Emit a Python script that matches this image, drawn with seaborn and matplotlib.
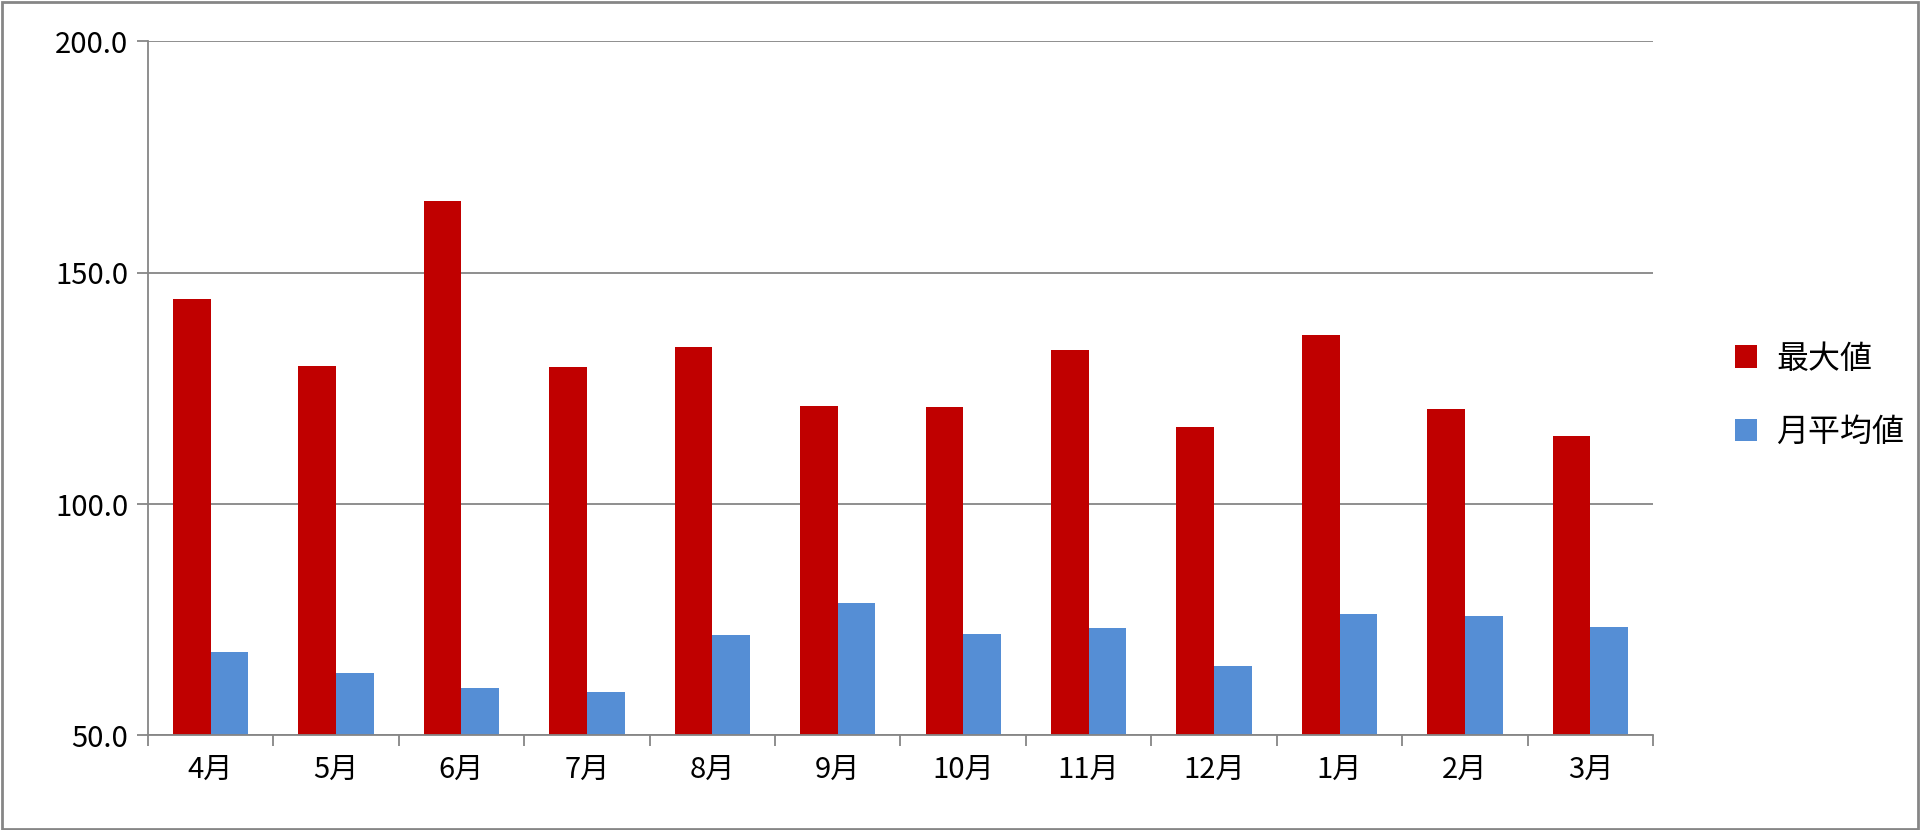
import pandas as pd
import matplotlib.pyplot as plt
import seaborn as sns

plt.rcParams['font.family'] = 'Noto Sans CJK JP'

# Data
months = ["4月", "5月", "6月", "7月", "8月", "9月", "10月", "11月", "12月", "1月", "2月", "3月"]
maxVals = [144.4, 129.9, 165.6, 129.6, 133.9, 121.2, 120.9, 133.3, 116.7, 136.5, 120.6, 114.8]
avgVals = [68.0, 63.5, 60.3, 59.3, 71.7, 78.6, 72.0, 73.3, 65.1, 76.2, 75.7, 73.5]
seriesNames = ["最大値", "月平均値"]

df = pd.DataFrame({'Month': months * 2,
                   'Value': maxVals + avgVals,
                   'Series': [seriesNames[0]] * 12 + [seriesNames[1]] * 12})

fig = plt.figure(figsize=(19.2, 8.3), dpi=100)
ax = fig.add_axes([0.077, 0.114, 0.784, 0.836])
ax.set_axisbelow(True)
ax.yaxis.grid(True, color='#868686', linewidth=1.3)

sns.barplot(data=df, x='Month', y='Value', hue='Series', order=months,
            palette={seriesNames[0]: '#C00000', seriesNames[1]: '#558ED5'},
            width=0.6, gap=0, saturation=1, linewidth=0, ax=ax)

ax.set_ylim(50, 200)
ax.set_yticks([50, 100, 150, 200])
ax.set_yticklabels([f'{v:.1f}' for v in [50, 100, 150, 200]])
ax.set_xlim(-0.5, 11.5)
ax.set_xlabel('')
ax.set_ylabel('')
for s in ['top', 'right']:
    ax.spines[s].set_visible(False)
for s in ['left', 'bottom']:
    ax.spines[s].set_color('#868686')
    ax.spines[s].set_linewidth(1.3)
ax.tick_params(axis='both', labelsize=21, colors='#868686', labelcolor='black')
ax.tick_params(axis='y', length=8, width=1.3, pad=6)
ax.set_xticks([i - 0.5 for i in range(13)], minor=True)
ax.tick_params(axis='x', which='major', length=0, pad=14)
ax.tick_params(axis='x', which='minor', length=8, width=1.3, colors='#868686')

ax.legend(loc='center left', bbox_to_anchor=(1.035, 0.49), frameon=False,
          fontsize=23, handlelength=0.7, handleheight=0.7, labelspacing=1.3,
          handletextpad=0.6)

fig.patches.append(plt.Rectangle((0.001, 0.001), 0.998, 0.997, transform=fig.transFigure,
                                 fill=False, edgecolor='#868686', linewidth=2))

plt.savefig('out.png', dpi=100)
plt.close()
